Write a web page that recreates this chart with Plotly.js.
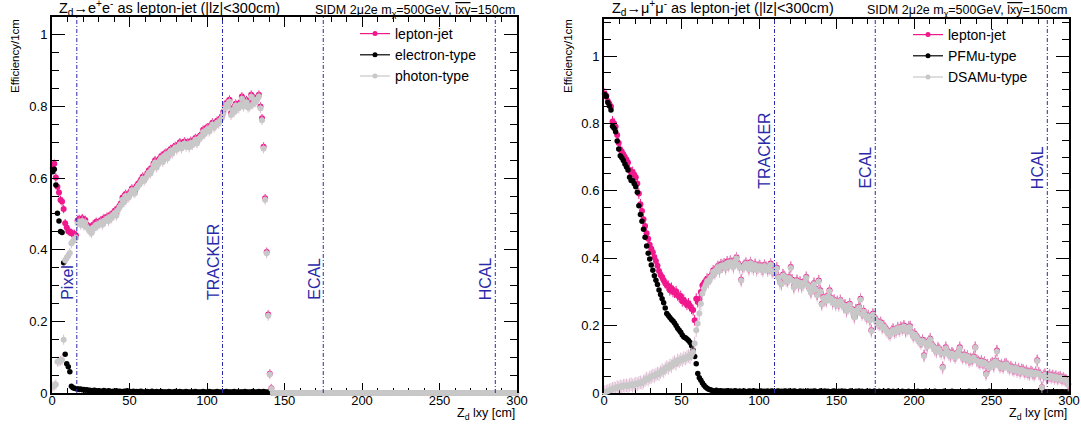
<!DOCTYPE html>
<html><head><meta charset="utf-8">
<script src="https://cdn.plot.ly/plotly-3.0.1.min.js"></script>
<style>html,body{margin:0;padding:0;background:#fff}#chart{width:1081px;height:427px}</style>
</head><body><div id="chart"></div>
<script>
// ---------------- data (1 cm bins, 0-300 cm) ----------------
const binWidth = 1;
const detNames = ['Pixel', 'TRACKER', 'ECAL', 'HCAL'];
const detPos = [16, 110, 175, 286];
const leftDetectors = ['Pixel', 'TRACKER', 'ECAL', 'HCAL'];
const rightDetectors = ['TRACKER', 'ECAL', 'HCAL'];
const xTicks = [0, 50, 100, 150, 200, 250, 300];

// Left panel: Zd -> e+e-
const leftLepton = [
0.628,0.640,0.602,0.576,0.560,0.539,0.535,0.514,0.474,0.462,
0.452,0.450,0.447,0.445,0.444,0.440,0.482,0.486,0.478,0.488,
0.476,0.483,0.470,0.466,0.461,0.458,0.470,0.468,0.478,0.474,
0.478,0.482,0.476,0.488,0.484,0.492,0.486,0.497,0.494,0.503,
0.509,0.500,0.516,0.522,0.530,0.546,0.538,0.556,0.549,0.551,
0.562,0.571,0.566,0.563,0.578,0.584,0.588,0.596,0.604,0.598,
0.606,0.614,0.622,0.618,0.630,0.641,0.650,0.636,0.644,0.655,
0.662,0.650,0.668,0.671,0.660,0.676,0.681,0.674,0.686,0.690,
0.684,0.693,0.700,0.688,0.696,0.702,0.694,0.699,0.691,0.704,
0.698,0.706,0.712,0.702,0.714,0.718,0.722,0.735,0.728,0.740,
0.742,0.736,0.748,0.755,0.746,0.752,0.760,0.758,0.766,0.772,
0.785,0.800,0.810,0.806,0.819,0.781,0.795,0.790,0.808,0.800,
0.800,0.812,0.828,0.806,0.814,0.818,0.802,0.805,0.833,0.812,
0.823,0.818,0.826,0.833,0.800,0.767,0.688,0.544,0.394,0.219,
0.054,0.013,0,0,0,0,0,0,0,0,
0,0,0,0,0,0,0,0,0,0, 0,0,0,0,0,0,0,0,0,0, 0,0,0,0,0,0,0,0,0,0,
0,0,0,0,0,0,0,0,0,0, 0,0,0,0,0,0,0,0,0,0, 0,0,0,0,0,0,0,0,0,0,
0,0,0,0,0,0,0,0,0,0, 0,0,0,0,0,0,0,0,0,0, 0,0,0,0,0,0,0,0,0,0,
0,0,0,0,0,0,0,0,0,0, 0,0,0,0,0,0,0,0,0,0, 0,0,0,0,0,0,0,0,0,0,
0,0,0,0,0,0,0,0,0,0, 0,0,0,0,0,0,0,0,0,0, 0,0,0,0,0,0,0,0,0,0
];
const leftElectron = [
0.618,0.625,0.581,0.502,0.480,0.451,0.448,0.364,0.108,0.082,
0.073,0.059,0.019,0.015,0.013,0.012,0.012,0.010,0.011,0.009,
0.010,0.008,0.009,0.007,0.008,0.006,0.007,0.008,0.006,0.005,
0.006,0.004,0.005,0.007,0.005,0.004,0.006,0.005,0.003,0.005,
0.004,0.006,0.003,0.005,0.004,0.003,0.005,0.004,0.006,0.003,
0.004,0.003,0.005,0.002,0.004,0.003,0.004,0.005,0.003,0.002,
0.003,0.004,0.002,0.003,0.005,0.002,0.003,0.004,0.002,0.003,
0.004,0.002,0.003,0.003,0.002,0.004,0.003,0.002,0.003,0.004,
0.002,0.003,0.004,0.002,0.003,0.002,0.004,0.003,0.002,0.003,
0.003,0.002,0.004,0.003,0.002,0.003,0.002,0.004,0.003,0.002,
0.003,0.004,0.002,0.003,0.002,0.003,0.004,0.002,0.003,0.002,
0.003,0.002,0.004,0.002,0.003,0.003,0.002,0.004,0.002,0.003,
0.002,0.003,0.003,0.002,0.004,0.002,0.003,0.002,0.003,0.004,
0.003,0.002,0.003,0.004,0.002,0.003,0.004,0.003,0.002,0.003,
0.002
];
const leftPhoton = [
0.018,0.020,0.024,0.087,0.088,0.090,0.092,0.149,0.371,0.378,
0.383,0.391,0.418,0.424,0.430,0.433,0.474,0.478,0.470,0.480,
0.468,0.476,0.462,0.458,0.450,0.447,0.462,0.460,0.470,0.468,
0.472,0.476,0.470,0.481,0.480,0.487,0.480,0.492,0.488,0.498,
0.503,0.495,0.510,0.518,0.524,0.540,0.533,0.550,0.545,0.546,
0.556,0.566,0.560,0.558,0.572,0.579,0.582,0.590,0.598,0.593,
0.600,0.609,0.616,0.613,0.624,0.636,0.644,0.630,0.639,0.649,
0.656,0.645,0.662,0.666,0.655,0.670,0.676,0.668,0.680,0.685,
0.679,0.688,0.694,0.683,0.690,0.697,0.688,0.694,0.686,0.698,
0.692,0.700,0.707,0.697,0.709,0.712,0.716,0.729,0.723,0.734,
0.737,0.730,0.742,0.750,0.741,0.747,0.755,0.752,0.760,0.767,
0.779,0.795,0.805,0.800,0.813,0.776,0.790,0.784,0.803,0.795,
0.795,0.806,0.822,0.800,0.809,0.812,0.797,0.800,0.827,0.806,
0.818,0.812,0.820,0.828,0.795,0.762,0.683,0.540,0.390,0.216,
0.052,0.012,0,0,0,0,0,0,0,0,
0,0,0,0,0,0,0,0,0,0, 0,0,0,0,0,0,0,0,0,0, 0,0,0,0,0,0,0,0,0,0,
0,0,0,0,0,0,0,0,0,0, 0,0,0,0,0,0,0,0,0,0, 0,0,0,0,0,0,0,0,0,0,
0,0,0,0,0,0,0,0,0,0, 0,0,0,0,0,0,0,0,0,0, 0,0,0,0,0,0,0,0,0,0,
0,0,0,0,0,0,0,0,0,0, 0,0,0,0,0,0,0,0,0,0, 0,0,0,0,0,0,0,0,0,0,
0,0,0,0,0,0,0,0,0,0, 0,0,0,0,0,0,0,0,0,0, 0,0,0,0,0,0,0,0,0,0
];

// Right panel: Zd -> mu+mu-
const rightLepton = [
0.888,0.882,0.866,0.858,0.850,0.806,0.800,0.790,0.766,0.742,
0.722,0.716,0.708,0.700,0.692,0.684,0.662,0.654,0.656,0.648,
0.640,0.622,0.592,0.560,0.540,0.516,0.496,0.474,0.458,0.440,
0.428,0.418,0.404,0.392,0.378,0.362,0.350,0.344,0.335,0.326,
0.320,0.318,0.305,0.312,0.300,0.298,0.302,0.290,0.285,0.288,
0.272,0.276,0.268,0.262,0.266,0.258,0.250,0.246,0.216,0.280,
0.270,0.278,0.300,0.320,0.325,0.330,0.339,0.336,0.345,0.350,
0.364,0.358,0.370,0.376,0.366,0.382,0.378,0.384,0.372,0.390,
0.380,0.392,0.386,0.376,0.395,0.402,0.384,0.378,0.336,0.374,
0.380,0.386,0.379,0.370,0.388,0.376,0.372,0.382,0.368,0.375,
0.379,0.372,0.366,0.380,0.374,0.368,0.370,0.384,0.362,0.364,
0.364,0.372,0.344,0.330,0.325,0.352,0.346,0.338,0.334,0.344,
0.374,0.336,0.315,0.328,0.335,0.320,0.330,0.318,0.325,0.332,
0.344,0.322,0.312,0.300,0.318,0.326,0.310,0.292,0.334,0.305,
0.265,0.285,0.278,0.275,0.290,0.305,0.282,0.270,0.276,0.265,
0.272,0.264,0.275,0.268,0.258,0.262,0.245,0.255,0.265,0.250,
0.242,0.226,0.248,0.240,0.256,0.280,0.236,0.244,0.232,0.226,
0.230,0.218,0.186,0.235,0.222,0.216,0.212,0.205,0.210,0.196,
0.200,0.192,0.186,0.180,0.176,0.184,0.190,0.182,0.186,0.194,
0.188,0.196,0.192,0.200,0.185,0.190,0.196,0.198,0.180,0.170,
0.176,0.168,0.162,0.156,0.150,0.158,0.112,0.148,0.140,0.154,
0.161,0.145,0.138,0.130,0.126,0.134,0.128,0.122,0.077,0.118,
0.136,0.124,0.118,0.112,0.120,0.115,0.108,0.117,0.122,0.136,
0.112,0.106,0.114,0.104,0.110,0.097,0.102,0.100,0.108,0.136,
0.098,0.094,0.090,0.096,0.088,0.092,0.058,0.084,0.077,0.086,
0.090,0.082,0.096,0.126,0.088,0.080,0.084,0.078,0.086,0.087,
0.080,0.074,0.078,0.072,0.070,0.076,0.067,0.072,0.064,0.070,
0.068,0.062,0.066,0.060,0.058,0.064,0.060,0.056,0.062,0.097,
0.060,0.054,0.017,0.052,0.056,0.047,0.050,0.054,0.048,0.052,
0.046,0.050,0.044,0.047,0.048,0.042,0.045,0.040,0.038,0.027
];
const rightPFMu = [
0.886,0.880,0.862,0.852,0.840,0.792,0.786,0.775,0.748,0.724,
0.704,0.698,0.690,0.680,0.671,0.662,0.640,0.631,0.630,0.621,
0.612,0.596,0.556,0.530,0.510,0.486,0.462,0.436,0.415,0.398,
0.380,0.364,0.348,0.335,0.322,0.306,0.292,0.280,0.268,0.252,
0.236,0.230,0.224,0.218,0.214,0.208,0.200,0.192,0.186,0.180,
0.172,0.166,0.164,0.160,0.156,0.150,0.140,0.127,0.108,0.087,
0.058,0.045,0.038,0.030,0.023,0.018,0.014,0.011,0.010,0.008,
0.006,0.004,0.008,0.005,0.006,0.007,0.004,0.006,0.003,0.007,
0.004,0.006,0.005,0.003,0.007,0.005,0.004,0.006,0.003,0.005,
0.006,0.004,0.003,0.006,0.005,0.004,0.007,0.004,0.005,0.003,
0.005,0.006,0.004,0.005,0.003,0.006,0.004,0.005,0.006,0.004,
0.004,0.005,0.006,0.003,0.005,0.004,0.006,0.005,0.003,0.006,
0.005,0.004,0.006,0.005,0.004,0.003,0.006,0.004,0.005,0.004,
0.004,0.006,0.003,0.005,0.004,0.006,0.005,0.003,0.004,0.006,
0.005,0.003,0.006,0.004,0.005,0.004,0.003,0.005,0.006,0.004,
0.004,0.005,0.003,0.006,0.004,0.005,0.003,0.004,0.005,0.006,
0.003,0.004,0.005,0.003,0.006,0.004,0.005,0.004,0.003,0.005,
0.004,0.005,0.003,0.004,0.006,0.003,0.004,0.005,0.004,0.003,
0.005,0.003,0.004,0.006,0.003,0.004,0.005,0.003,0.004,0.005,
0.003,0.004,0.005,0.003,0.004,0.003,0.005,0.004,0.003,0.004,
0.004,0.003,0.005,0.004,0.003,0.004,0.003,0.005,0.004,0.003,
0.003,0.004,0.003,0.005,0.004,0.003,0.004,0.003,0.004,0.005,
0.004,0.003,0.004,0.003,0.005,0.003,0.004,0.003,0.004,0.003,
0.003,0.004,0.003,0.004,0.003,0.005,0.003,0.004,0.003,0.004,
0.004,0.003,0.004,0.003,0.004,0.003,0.004,0.003,0.005,0.003,
0.003,0.004,0.003,0.004,0.003,0.003,0.004,0.003,0.004,0.003,
0.004,0.003,0.003,0.004,0.003,0.004,0.003,0.003,0.004,0.003,
0.003,0.004,0.003,0.003,0.004,0.003,0.003,0.004,0.003,0.003,
0.004,0.003,0.003,0.004,0.003,0.003,0.004,0.003,0.003,0.004,
0.003,0.003,0.004,0.003,0.003,0.004,0.003,0.003,0.003,0.004
];
const rightDSAMu = [
0.002,0.004,0.006,0.008,0.010,0.012,0.014,0.013,0.018,0.016,
0.020,0.018,0.022,0.021,0.023,0.020,0.024,0.026,0.022,0.025,
0.028,0.026,0.030,0.032,0.029,0.034,0.038,0.043,0.040,0.046,
0.048,0.052,0.050,0.055,0.058,0.056,0.062,0.068,0.064,0.072,
0.077,0.074,0.082,0.080,0.088,0.092,0.086,0.097,0.094,0.100,
0.098,0.104,0.102,0.107,0.110,0.106,0.115,0.122,0.147,0.186,
0.206,0.236,0.265,0.295,0.310,0.320,0.332,0.330,0.340,0.346,
0.360,0.356,0.365,0.373,0.362,0.378,0.376,0.380,0.370,0.386,
0.378,0.388,0.383,0.374,0.391,0.399,0.381,0.374,0.334,0.370,
0.377,0.383,0.377,0.367,0.385,0.374,0.369,0.380,0.365,0.373,
0.376,0.369,0.363,0.377,0.372,0.365,0.368,0.381,0.359,0.362,
0.362,0.369,0.342,0.327,0.323,0.349,0.344,0.335,0.332,0.341,
0.371,0.333,0.313,0.325,0.332,0.318,0.327,0.316,0.322,0.329,
0.341,0.320,0.309,0.298,0.315,0.323,0.308,0.290,0.331,0.302,
0.263,0.282,0.275,0.273,0.287,0.302,0.280,0.267,0.274,0.262,
0.270,0.261,0.273,0.265,0.256,0.259,0.243,0.252,0.262,0.248,
0.239,0.224,0.245,0.238,0.253,0.277,0.234,0.241,0.230,0.223,
0.228,0.215,0.184,0.232,0.220,0.213,0.209,0.203,0.207,0.194,
0.197,0.190,0.183,0.178,0.173,0.182,0.187,0.180,0.183,0.192,
0.186,0.193,0.190,0.197,0.183,0.187,0.194,0.195,0.178,0.168,
0.173,0.166,0.159,0.154,0.148,0.155,0.110,0.146,0.137,0.152,
0.159,0.142,0.136,0.128,0.123,0.132,0.126,0.119,0.075,0.116,
0.133,0.122,0.116,0.110,0.117,0.113,0.106,0.114,0.120,0.133,
0.110,0.104,0.111,0.102,0.108,0.095,0.100,0.098,0.105,0.134,
0.096,0.092,0.088,0.093,0.086,0.090,0.056,0.082,0.075,0.084,
0.088,0.080,0.094,0.123,0.086,0.078,0.082,0.076,0.084,0.085,
0.078,0.072,0.076,0.070,0.068,0.074,0.065,0.070,0.062,0.068,
0.066,0.060,0.064,0.058,0.056,0.062,0.058,0.054,0.060,0.095,
0.058,0.052,0.016,0.050,0.054,0.045,0.048,0.052,0.046,0.050,
0.044,0.048,0.042,0.045,0.046,0.040,0.043,0.038,0.036,0.025
];

// ---------------- styling ----------------
const FONT = 'Liberation Sans, Arial, Helvetica, sans-serif';
const PINK = '#f0188c', BLACK = '#000000', GREY = '#c8c8c8';
const DET_COLOR = '#2a2aa8';

function centers(arr) { return arr.map((_, i) => (i + 0.5) * binWidth); }
function errs(arr, e) { return arr.map(v => (v > 0 ? e : 0)); }

function dataTrace(vals, xa, ya, color, size, err, errColor) {
  return {
    type: 'scatter', mode: 'markers', x: centers(vals), y: vals, xaxis: xa, yaxis: ya,
    marker: {color: color, size: size, line: {width: 0}},
    error_y: {type: 'data', array: errs(vals, err), symmetric: true, color: errColor, thickness: 1, width: 0},
    cliponaxis: false, showlegend: false, hoverinfo: 'skip'
  };
}
function legendTrace(name, color, legend) {
  return {type: 'scatter', mode: 'lines+markers', x: [null], y: [null], name: name, legend: legend,
    line: {color: color, width: 1.2}, marker: {color: color, size: 5}, showlegend: true, hoverinfo: 'skip'};
}

const traces = [
  dataTrace(leftLepton, 'x', 'y', PINK, 6, 0.012, PINK),
  dataTrace(leftElectron, 'x', 'y', BLACK, 5.5, 0.004, BLACK),
  dataTrace(leftPhoton, 'x', 'y', GREY, 6, 0.014, 'rgba(215,170,200,0.8)'),
  dataTrace(rightLepton, 'x2', 'y2', PINK, 6, 0.016, PINK),
  dataTrace(rightPFMu, 'x2', 'y2', BLACK, 5.5, 0.005, BLACK),
  dataTrace(rightDSAMu, 'x2', 'y2', GREY, 6, 0.02, 'rgba(215,170,200,0.8)'),
  legendTrace('lepton-jet', PINK, 'legend'),
  legendTrace('electron-type', BLACK, 'legend'),
  legendTrace('photon-type', GREY, 'legend'),
  legendTrace('lepton-jet', PINK, 'legend2'),
  legendTrace('PFMu-type', BLACK, 'legend2'),
  legendTrace('DSAMu-type', GREY, 'legend2')
];

const W = 1081, H = 427;
const px = v => v / W;            // paper x from pixel
const py = v => 1 - v / H;        // paper y from pixel

function xAxis(domain, anchor) {
  return {domain: domain, anchor: anchor, range: [0, 300], tickvals: xTicks, ticks: 'inside', ticklen: 10,
    tickwidth: 1, tickcolor: '#000', ticklabelstandoff: -6,
    minor: {dtick: 10, ticks: 'inside', ticklen: 5, tickwidth: 1, tickcolor: '#000', showgrid: false},
    showline: true, linecolor: '#000', linewidth: 2, mirror: 'allticks', showgrid: false, zeroline: false,
    layer: 'below traces',
    tickfont: {family: FONT, size: 13, color: '#000'}, fixedrange: true};
}
function yAxis(domain, anchor, top) {
  return {domain: domain, anchor: anchor, range: [0, top], dtick: 0.2, tick0: 0, ticks: 'inside', ticklen: 13,
    tickwidth: 1, tickcolor: '#000',
    minor: {dtick: 0.05, ticks: 'inside', ticklen: 7, tickwidth: 1, tickcolor: '#000', showgrid: false},
    showline: true, linecolor: '#000', linewidth: 2, mirror: 'allticks', showgrid: false, zeroline: false,
    tickfont: {family: FONT, size: 13, color: '#000'}, fixedrange: true};
}

const shapes = [];
const annotations = [];
function addDetectors(names, xref, yref, labelY) {
  names.forEach(n => {
    const pos = detPos[detNames.indexOf(n)];
    shapes.push({type: 'line', xref: xref, yref: yref + ' domain', x0: pos, x1: pos, y0: 0, y1: 1,
      line: {color: DET_COLOR, width: 1, dash: '4px,2px,1px,2px'}});
    annotations.push({text: n, xref: xref, yref: yref, x: pos, y: labelY, xanchor: 'right', yanchor: 'bottom',
      textangle: -90, showarrow: false, xshift: 1, font: {family: FONT, size: 16, color: DET_COLOR}});
  });
}
addDetectors(leftDetectors, 'x', 'y', 0.254);
addDetectors(rightDetectors, 'x2', 'y2', 0.60);

function panelText(title, titleX, rightX, yTitleX, xTitleRight) {
  annotations.push({text: title, xref: 'paper', yref: 'paper', x: px(titleX), y: py(8), xanchor: 'left', yanchor: 'middle',
    showarrow: false, font: {family: FONT, size: 14.5, color: '#000'}});
  annotations.push({text: 'SIDM 2μ2e m<sub>χ</sub>=500GeV, <span style="text-decoration:overline">lxy</span>=150cm',
    xref: 'paper', yref: 'paper', x: px(rightX), y: py(11), xanchor: 'right', yanchor: 'middle',
    showarrow: false, font: {family: FONT, size: 12.5, color: '#000'}});
  annotations.push({text: 'Efficiency/1cm', xref: 'paper', yref: 'paper', x: px(yTitleX), y: py(17), xanchor: 'center', yanchor: 'top',
    textangle: -90, showarrow: false, font: {family: FONT, size: 11.5, color: '#000'}});
  annotations.push({text: 'Z<sub>d</sub> lxy [cm]', xref: 'paper', yref: 'paper', x: px(xTitleRight), y: py(414), xanchor: 'right', yanchor: 'middle',
    showarrow: false, font: {family: FONT, size: 12.5, color: '#000'}});
}
panelText('Z<sub>d</sub>→e<sup>+</sup>e<sup>-</sup> as lepton-jet (|lz|<300cm)', 57, 517, 15, 517);
panelText('Z<sub>d</sub>→μ<sup>+</sup>μ<sup>-</sup> as lepton-jet (|lz|<300cm)', 610, 1069, 568, 1069);

const legendBase = {xanchor: 'left', yanchor: 'top', bgcolor: 'rgba(0,0,0,0)', borderwidth: 0,
  font: {family: FONT, size: 14, color: '#000'}, itemwidth: 30, tracegroupgap: 0};

const layout = {
  width: W, height: H, margin: {l: 0, r: 0, t: 0, b: 0, pad: 0},
  paper_bgcolor: '#ffffff', plot_bgcolor: '#ffffff',
  xaxis: xAxis([px(52), px(517)], 'y'),
  yaxis: yAxis([1 - 393 / H, py(17)], 'x', 1.05),
  xaxis2: xAxis([px(604), px(1069)], 'y2'),
  yaxis2: yAxis([1 - 393 / H, py(19)], 'x2', 1.11),
  legend: Object.assign({x: px(355), y: py(18)}, legendBase),
  legend2: Object.assign({x: px(908), y: py(19)}, legendBase),
  shapes: shapes, annotations: annotations, showlegend: true, hovermode: false
};

Plotly.newPlot('chart', traces, layout, {staticPlot: true, displayModeBar: false});
</script>
</body></html>
